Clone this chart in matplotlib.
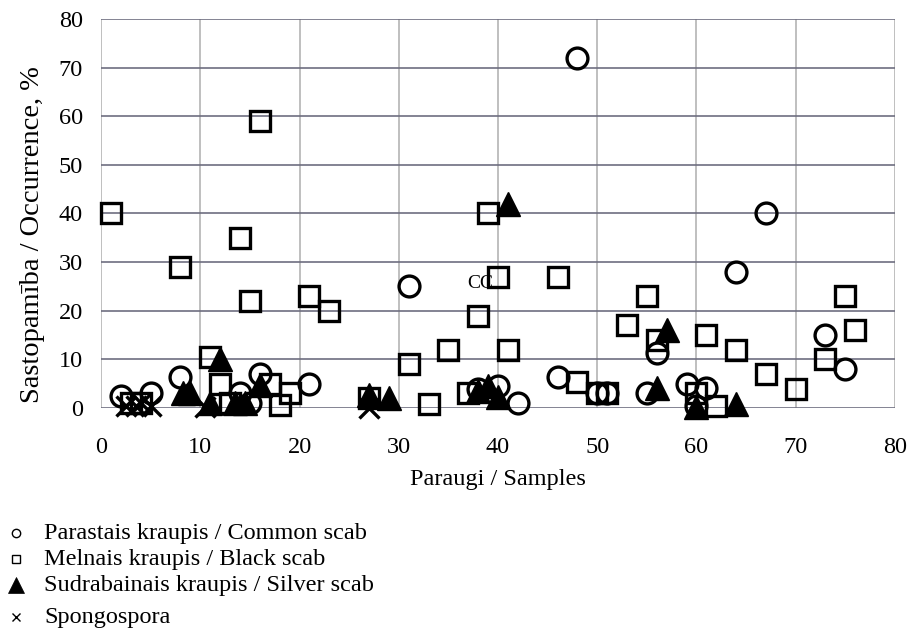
import matplotlib
matplotlib.use("Agg")
import matplotlib.pyplot as plt
from matplotlib.lines import Line2D

plt.rcParams['font.family'] = ['Liberation Serif', 'DejaVu Serif']

# Occurrence (%) of each disease per sample
common_x = [2, 5, 8, 14, 15, 16, 21, 31, 38, 40, 42, 46, 48, 50, 51, 55, 56, 59, 60, 61, 64, 67, 73, 75]
common_y = [2.5, 3, 6.4, 3, 1, 7, 5, 25, 4, 4.5, 1, 6.4, 72, 3, 3, 3, 11.3, 5, 0.5, 4.2, 28, 40, 15, 8]

black_x = [1, 3, 4, 8, 11, 12, 13, 14, 15, 16, 17, 18, 19, 21, 23, 27, 31, 33, 35, 37, 38, 39, 40, 41,
           46, 48, 50, 51, 53, 55, 56, 60, 61, 62, 64, 67, 70, 73, 75, 76]
black_y = [40, 1, 1, 29, 10.5, 5, 1, 35, 22, 59, 5, 0.7, 3, 23, 20, 2, 9, 0.8, 12, 3, 19, 40, 27, 12,
           27, 5.3, 3, 3, 17, 23, 14, 3, 15, 0.5, 12, 7, 4, 10, 23, 16]

silver_x = [8.3, 9, 11, 12, 13.5, 14.5, 16, 27, 29, 38, 39, 40, 41, 56, 57, 60, 64]
silver_y = [3, 3, 1, 10, 1, 1, 4.7, 2.7, 2, 3.5, 4.5, 2.3, 42, 4.1, 16, 0.3, 0.8]

spongo_x = [2.5, 3.5, 4, 5, 10.5, 27]
spongo_y = [0.5, 0.5, 1, 0.5, 0.3, 0]

legend_labels = [
    "Parastais kraupis / Common scab",
    "Melnais kraupis / Black scab",
    "Sudrabainais kraupis / Silver scab",
    "Spongospora",
]

x_ticks = list(range(0, 81, 10))
y_ticks = list(range(0, 81, 10))

fig = plt.figure(figsize=(9.11, 6.37), dpi=100)
ax = fig.add_axes([0.1109, 0.3595, 0.8715, 0.6107])

ax.set_xlim(0, 80)
ax.set_ylim(0, 80)
ax.set_xticks(x_ticks)
ax.set_yticks(y_ticks)
ax.tick_params(axis='both', length=0, labelsize=17.5)
ax.xaxis.set_tick_params(pad=21)
ax.yaxis.set_tick_params(pad=13)

for s in ax.spines.values():
    s.set_visible(False)
ax.set_axisbelow(True)
ax.xaxis.grid(True, color='#b4b4b4', linewidth=1.2)
ax.yaxis.grid(True, color='#6e6e80', linewidth=1.2)

mk = dict(linestyle='none', clip_on=False, markeredgecolor='black')
ax.plot(common_x, common_y, marker='o', markersize=15, markerfacecolor='none',
        markeredgewidth=2.4, **mk)
ax.plot(black_x, black_y, marker='s', markersize=15, markerfacecolor='none',
        markeredgewidth=2.4, **mk)
ax.plot(silver_x, silver_y, marker='^', markersize=17, markerfacecolor='black',
        markeredgewidth=1.0, **mk)
ax.plot(spongo_x, spongo_y, marker='x', markersize=15, markeredgewidth=2.4, **mk)

ax.text(38.2, 25.7, "CC", fontsize=14, ha='center', va='center')

ax.set_xlabel("Paraugi / Samples", fontsize=17.5, labelpad=8)
ax.set_ylabel("Sastopamība / Occurrence, %", fontsize=20.5)
ax.yaxis.set_label_coords(-0.07, 0.445)

# Legend rows below the chart
rows_y = [533, 559, 585, 617]
symbols = [
    dict(marker='o', markersize=6, markerfacecolor='none', markeredgewidth=1.0),
    dict(marker='s', markersize=6, markerfacecolor='none', markeredgewidth=1.0),
    dict(marker='^', markersize=11, markerfacecolor='black', markeredgewidth=0.5),
    dict(marker='x', markersize=6, markeredgewidth=1.0),
]
W, H = 911.0, 637.0
for label, py, sym in zip(legend_labels, rows_y, symbols):
    yf = 1 - py / H
    fig.add_artist(Line2D([16 / W], [yf], transform=fig.transFigure, color='black',
                          markeredgecolor='black', linestyle='none', **sym))
    fig.text(44 / W, yf, label, fontsize=17.5, ha='left', va='center')

fig.savefig("out.png", dpi=100)
